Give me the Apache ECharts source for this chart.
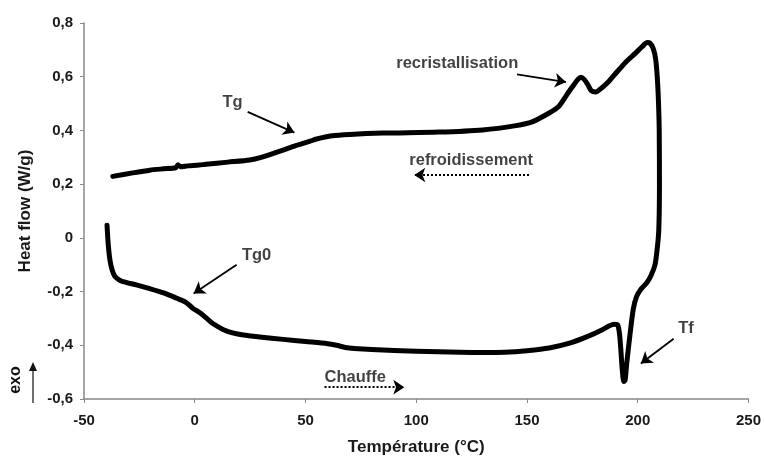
<!DOCTYPE html>
<html>
<head>
<meta charset="utf-8">
<script src="https://cdn.jsdelivr.net/npm/echarts@6/dist/echarts.min.js"></script>
<style>
    html, body { margin: 0; padding: 0; background: #fff; }
    #chart { width: 764px; height: 461px; }
</style>
</head>
<body>
<div id="chart"></div>
<script>
// heating run (bottom branch), then the climb up the right side
var heatT = [-39.6, -39.1, -38.3, -37.3, -36, -34, -32.4, -26, -20.3, -14, -8.1, -4, -0.9, 2.5, 5.4, 7.8, 9.9, 13, 17.1, 22, 29.3,
    40, 50, 60, 64, 68, 72, 80, 100, 120, 130, 140, 150, 160, 170, 178, 184, 187, 189.5, 191, 191.8, 192.4, 193, 193.7, 194.3,
    195, 196.5, 198, 199.5, 201.5, 204, 206, 207.8, 208.8, 209.5, 209.8, 209.7, 209.3, 208.8, 208.1, 207, 205.5, 204.3];
var heatHF = [0.047, -0.02, -0.082, -0.12, -0.144, -0.157, -0.163, -0.176, -0.189, -0.205, -0.225, -0.24, -0.262, -0.28, -0.3, -0.317, -0.328, -0.342, -0.354, -0.362, -0.369,
    -0.378, -0.386, -0.394, -0.4, -0.408, -0.412, -0.416, -0.422, -0.426, -0.427, -0.426, -0.42, -0.41, -0.39, -0.365, -0.342, -0.328, -0.322, -0.325, -0.36, -0.42, -0.49, -0.535, -0.53,
    -0.47, -0.36, -0.265, -0.218, -0.19, -0.168, -0.14, -0.1, -0.04, 0.03, 0.2, 0.4, 0.52, 0.6, 0.665, 0.705, 0.725, 0.727];
// cooling run (top branch), right to left
var coolT = [202, 199, 195, 190, 187, 184, 181, 179, 177.5, 175.8, 174.3, 173, 171.2, 169, 167.6, 164.4, 160, 152.3, 145, 130, 110, 85,
    70, 62, 55, 51.8, 45, 39.6, 30, 24.8, 15, 5, 2, -3, -6.5, -7.6, -8.6, -14, -20.3, -28, -37];
var coolHF = [0.712, 0.688, 0.658, 0.612, 0.583, 0.56, 0.543, 0.548, 0.57, 0.59, 0.598, 0.59, 0.57, 0.545, 0.528, 0.49, 0.465, 0.432, 0.418, 0.402, 0.394, 0.39,
    0.385, 0.38, 0.368, 0.359, 0.342, 0.326, 0.3, 0.29, 0.282, 0.274, 0.271, 0.268, 0.265, 0.272, 0.261, 0.257, 0.252, 0.242, 0.229];

var xMin = -50, xMax = 250, xStep = 50;
var yMin = -0.6, yMax = 0.8, yStep = 0.2;

// text annotations, placed in data coordinates
var noteText = ['Tg', 'recristallisation', 'refroidissement', 'Tg0', 'Chauffe', 'Tf'];
var noteT = [17.1, 118.5, 124.8, 27.9, 72.5, 221.8];
var noteHF = [0.506, 0.649, 0.289, -0.064, -0.519, -0.339];
// arrows: [fromT, fromHF, toT, toHF, dotted]
var arrows = [
    [23.9, 0.469, 45.0, 0.392, false],
    [145.5, 0.609, 167.6, 0.580, false],
    [150.9, 0.234, 99.1, 0.234, true],
    [18.9, -0.100, -0.5, -0.207, false],
    [58.6, -0.556, 94.6, -0.556, true],
    [216.2, -0.376, 201.4, -0.468, false]
];

var font = '"Liberation Sans", Arial, sans-serif';

var loop = [];
for (var i = 0; i < heatT.length; i++) loop.push([heatT[i], heatHF[i]]);
for (var j = 0; j < coolT.length; j++) loop.push([coolT[j], coolHF[j]]);

var notes = [];
for (var k = 0; k < noteText.length; k++) notes.push({value: [noteT[k], noteHF[k]], name: noteText[k]});

var arrowData = arrows.map(function (a) {
    return [
        {coord: [a[0], a[1]], lineStyle: {type: a[4] ? [2, 2] : 'solid', width: a[4] ? 2 : 1.8}},
        {coord: [a[2], a[3]]}
    ];
});

var chart = echarts.init(document.getElementById('chart'));
chart.setOption({
    animation: false,
    grid: {left: 84, right: 14, top: 23, bottom: 57},
    xAxis: {
        type: 'value', min: xMin, max: xMax, interval: xStep,
        name: 'Température (°C)', nameLocation: 'middle', nameGap: 40,
        nameTextStyle: {fontFamily: font, fontWeight: 'bold', fontSize: 17, color: '#1a1a1a'},
        axisLine: {onZero: false, lineStyle: {color: '#888', width: 1.5}},
        axisTick: {show: true, length: 4, lineStyle: {color: '#888'}},
        axisLabel: {margin: 14, fontFamily: font, fontWeight: 'bold', fontSize: 15, color: '#1a1a1a'},
        splitLine: {show: false}
    },
    yAxis: {
        type: 'value', min: yMin, max: yMax, interval: yStep,
        name: 'Heat flow (W/g)', nameLocation: 'middle', nameGap: 50,
        nameTextStyle: {fontFamily: font, fontWeight: 'bold', fontSize: 17, color: '#1a1a1a'},
        axisLine: {show: true, onZero: false, lineStyle: {color: '#888', width: 1.5}},
        axisTick: {show: true, length: 4, lineStyle: {color: '#888'}},
        axisLabel: {
            margin: 11, fontFamily: font, fontWeight: 'bold', fontSize: 15, color: '#1a1a1a',
            formatter: function (v) { return (Math.round(v * 10) / 10).toString().replace('.', ','); }
        },
        splitLine: {show: false}
    },
    series: [
        {
            type: 'line',
            data: loop,
            showSymbol: false,
            smooth: 0.25,
            clip: false,
            lineStyle: {color: '#000', width: 5, cap: 'round', join: 'round'},
            markLine: {
                silent: true,
                symbol: ['none', 'arrow'],
                symbolSize: [11, 11],
                label: {show: false},
                lineStyle: {color: '#000'},
                data: arrowData
            }
        },
        {
            type: 'scatter',
            data: notes,
            symbolSize: 0,
            silent: true,
            label: {
                show: true, position: 'inside', formatter: '{b}',
                fontFamily: font, fontWeight: 'bold', fontSize: 16.5, color: '#111'
            }
        }
    ],
    graphic: [
        {
            type: 'text', x: 16, y: 380, rotation: Math.PI / 2,
            style: {text: 'exo', font: 'bold 16px ' + font, fill: '#111', align: 'center', verticalAlign: 'middle'}
        },
        {type: 'line', shape: {x1: 33, y1: 403, x2: 33, y2: 370}, style: {stroke: '#222', lineWidth: 1.3}},
        {type: 'polygon', shape: {points: [[29, 371], [37, 371], [33, 362]]}, style: {fill: '#111'}}
    ]
});
</script>
</body>
</html>
